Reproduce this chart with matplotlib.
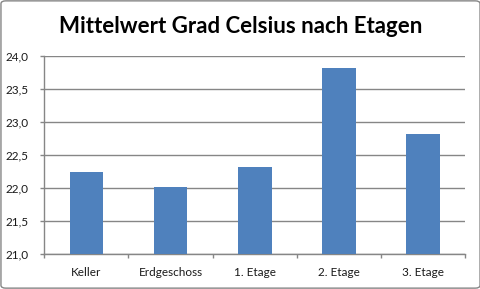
import matplotlib
matplotlib.use("Agg")
import matplotlib.pyplot as plt
from matplotlib.patches import FancyBboxPatch
from matplotlib.ticker import FuncFormatter, MultipleLocator

# data
categories = ["Keller", "Erdgeschoss", "1. Etage", "2. Etage", "3. Etage"]
mean_temp = [22.25, 22.02, 22.32, 23.82, 22.82]
title = "Mittelwert Grad Celsius nach Etagen"


def main():
    plt.rcParams['font.family'] = ['Lato', 'DejaVu Sans']
    fig = plt.figure(figsize=(4.81, 2.89), dpi=100)
    ax = fig.add_axes([0.092, 0.121, 0.875, 0.685])

    # excel-like border round the chart
    fig.patches.append(FancyBboxPatch((0.002, 0.003), 0.996, 0.994,
                                      boxstyle="round,pad=0,rounding_size=0.01",
                                      transform=fig.transFigure, fill=False,
                                      edgecolor='#868686', lw=1.0))

    x = range(len(categories))
    ax.bar(x, mean_temp, width=0.4, color='#4F81BD', zorder=3)

    ax.set_ylim(21.0, 24.0)
    ax.set_xlim(-0.5, len(categories) - 0.5)
    ax.yaxis.set_major_locator(MultipleLocator(0.5))
    ax.yaxis.set_major_formatter(FuncFormatter(lambda v, p: f"{v:.1f}".replace('.', ',')))
    ax.grid(axis='y', color='#868686', lw=1.0, zorder=0)

    # category boundaries get the tick marks, names sit between them
    ax.set_xticks([i - 0.5 for i in range(len(categories) + 1)], minor=False)
    ax.set_xticklabels([])
    ax.set_xticks(list(x), minor=True)
    ax.set_xticklabels(categories, minor=True)
    ax.tick_params(axis='x', which='major', length=3, color='#868686', width=1)
    ax.tick_params(axis='x', which='minor', length=0, pad=9, labelsize=8.5, labelcolor='#1a1a1a')
    ax.tick_params(axis='y', length=3, color='#868686', width=1, labelsize=8.5, labelcolor='#1a1a1a', pad=8)

    for side in ['top', 'right']:
        ax.spines[side].set_visible(False)
    for side in ['left', 'bottom']:
        ax.spines[side].set_color('#868686')
        ax.spines[side].set_linewidth(1.0)

    fig.text(0.5, 0.91, title, ha='center', va='center', fontsize=16, fontweight='bold')

    fig.savefig("out.png", dpi=100)


if __name__ == '__main__':
    main()
